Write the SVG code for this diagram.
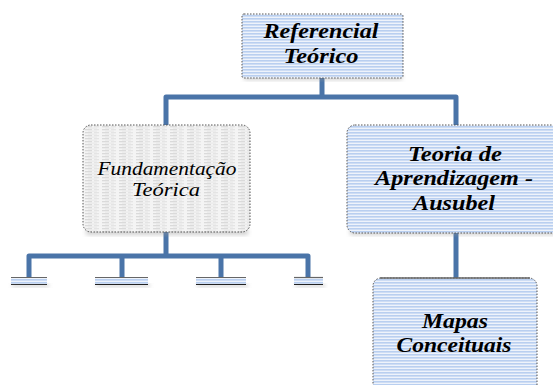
<svg xmlns="http://www.w3.org/2000/svg" width="553" height="385" viewBox="0 0 553 385">
<defs>
<pattern id="blue" width="6" height="3" patternUnits="userSpaceOnUse">
<rect width="6" height="3" fill="#eef3fb"/>
<rect y="0" width="6" height="1.6" fill="#b9cff0"/>
</pattern>
<pattern id="grey" width="17" height="3" patternUnits="userSpaceOnUse">
<rect width="17" height="3" fill="#f4f4f4"/>
<rect x="0" y="0" width="7" height="1.3" fill="#dadada"/>
<rect x="9" y="0" width="5" height="1.3" fill="#e4e4e4"/>
<rect x="3" y="1.6" width="9" height="1" fill="#e8e8e8"/>
</pattern>
<filter id="sh" x="-10%" y="-10%" width="120%" height="140%">
<feGaussianBlur stdDeviation="2"/>
</filter>
<style>
.box{stroke:#555;stroke-width:1;stroke-dasharray:1.5 1.5}
.bl{fill:url(#blue)}
.gr{fill:url(#grey)}
.shadow{fill:#999;opacity:0.45;filter:url(#sh)}
.t{font-family:"Liberation Serif",serif;font-style:italic;font-size:21px;text-anchor:middle;fill:#000}
.b{font-weight:bold}
.n{font-size:19.5px}
.c{fill:none;stroke:#4a74a8;stroke-width:5;stroke-linejoin:round}
.mini{fill:url(#blue)}
</style>
</defs>
<g id="connectors">
<path class="c" d="M322 77 V97 H166 V127 M322 97 H456 V127"/>
<path class="c" d="M166 232 V256 M29 278 V256 H308 V278 M122 256 V278 M221 256 V278"/>
<path class="c" d="M456 233 V279"/>
</g>
<g id="n-referencial">
<rect class="shadow" x="244" y="74" width="158" height="6"/>
<rect class="box bl" x="242" y="14" width="161" height="64" rx="2"/>
<text class="t b" x="321" y="38" textLength="115" lengthAdjust="spacingAndGlyphs">Referencial</text>
<text class="t b" x="321" y="63" textLength="75" lengthAdjust="spacingAndGlyphs">Teórico</text>
</g>
<g id="n-fundamentacao">
<rect class="shadow" x="86" y="229" width="162" height="6"/>
<rect class="box gr" x="83" y="125" width="167" height="107" rx="8"/>
<text class="t n" x="167" y="175" textLength="139" lengthAdjust="spacingAndGlyphs">Fundamentação</text>
<text class="t n" x="166" y="196" textLength="68" lengthAdjust="spacingAndGlyphs">Teórica</text>
</g>
<g id="n-teoria">
<rect class="shadow" x="350" y="229" width="210" height="6"/>
<rect class="box bl" x="347" y="125" width="215" height="108" rx="8"/>
<text class="t b" x="455" y="161" textLength="94" lengthAdjust="spacingAndGlyphs">Teoria de</text>
<text class="t b" x="454" y="185" textLength="158" lengthAdjust="spacingAndGlyphs">Aprendizagem -</text>
<text class="t b" x="454" y="210" textLength="82" lengthAdjust="spacingAndGlyphs">Ausubel</text>
</g>
<g id="n-mapas">
<rect class="box bl" x="373" y="278" width="164" height="120" rx="8"/>
<line x1="380" y1="278" x2="530" y2="278" stroke="#666" stroke-width="1.5"/>
<text class="t b" x="455" y="328" textLength="66" lengthAdjust="spacingAndGlyphs">Mapas</text>
<text class="t b" x="454" y="352" textLength="115" lengthAdjust="spacingAndGlyphs">Conceituais</text>
</g>
<g id="n-mini1">
<rect class="shadow" x="12" y="284" width="37" height="3"/>
<rect class="mini" x="11" y="277" width="36" height="8"/>
<line x1="11" y1="277.5" x2="47" y2="277.5" stroke="#666" stroke-width="1.2"/>
<line x1="11" y1="284.5" x2="47" y2="284.5" stroke="#333" stroke-width="1"/>
</g>
<g id="n-mini2">
<rect class="shadow" x="96" y="284" width="54" height="3"/>
<rect class="mini" x="95" y="277" width="53" height="8"/>
<line x1="95" y1="277.5" x2="148" y2="277.5" stroke="#666" stroke-width="1.2"/>
<line x1="95" y1="284.5" x2="148" y2="284.5" stroke="#222" stroke-width="1"/>
</g>
<g id="n-mini3">
<rect class="shadow" x="197" y="284" width="51" height="3"/>
<rect class="mini" x="196" y="277" width="50" height="8"/>
<line x1="196" y1="277.5" x2="246" y2="277.5" stroke="#666" stroke-width="1.2"/>
<line x1="196" y1="284.5" x2="246" y2="284.5" stroke="#222" stroke-width="1"/>
</g>
<g id="n-mini4">
<rect class="shadow" x="295" y="284" width="30" height="3"/>
<rect class="mini" x="294" y="277" width="29" height="8"/>
<line x1="294" y1="277.5" x2="323" y2="277.5" stroke="#666" stroke-width="1.2"/>
<line x1="294" y1="284.5" x2="323" y2="284.5" stroke="#222" stroke-width="1"/>
</g>
</svg>
